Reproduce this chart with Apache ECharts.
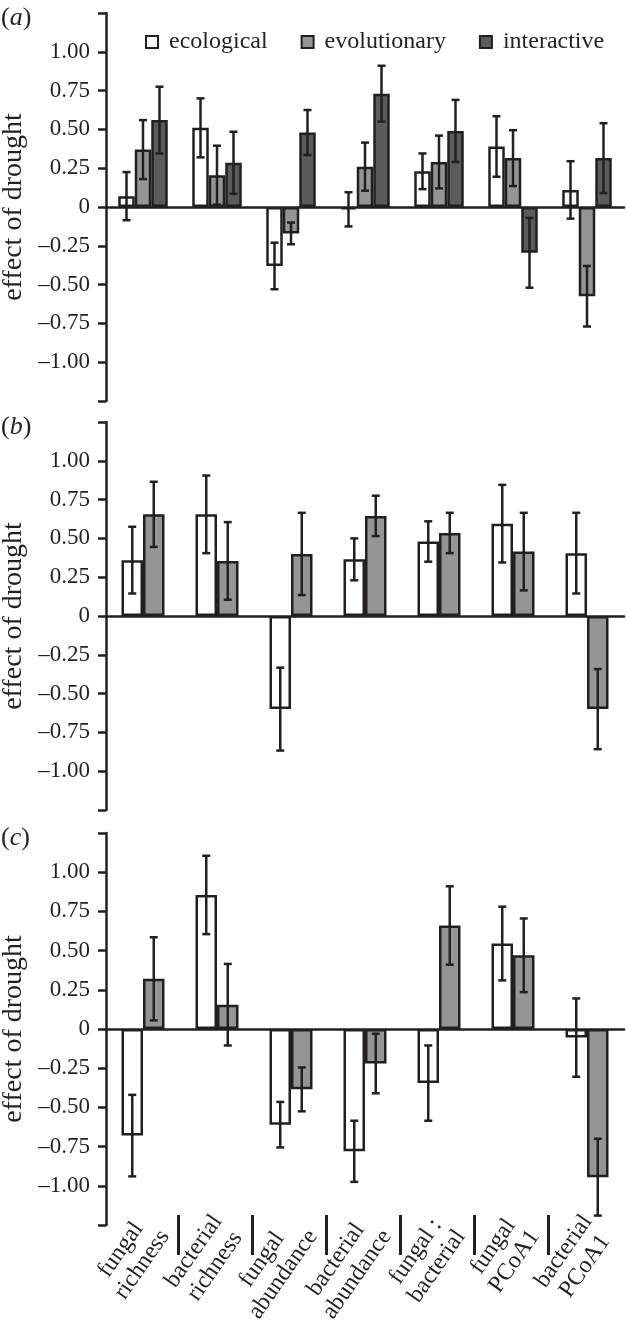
<!DOCTYPE html>
<html>
<head>
<meta charset="utf-8">
<script src="https://cdn.jsdelivr.net/npm/echarts@6/dist/echarts.min.js"></script>
<style>
    html, body { margin: 0; padding: 0; background: #fff; }
    #chart { width: 626px; height: 1323px; }
</style>
</head>
<body>
<div id="chart"></div>
<script>
// categories (x axis)
var categories = ['fungal\nrichness', 'bacterial\nrichness', 'fungal\nabundance', 'bacterial\nabundance',
    'fungal :\nbacterial', 'fungal\nPCoA1', 'bacterial\nPCoA1'];
var seriesNames = ['ecological', 'evolutionary', 'interactive'];

// (a)
var aEco = [0.07, 0.51, -0.38, -0.015, 0.23, 0.39, 0.11];
var aEcoErr = [0.155, 0.19, 0.15, 0.11, 0.115, 0.195, 0.185];
var aEvo = [0.37, 0.205, -0.17, 0.26, 0.29, 0.315, -0.575];
var aEvoErr = [0.19, 0.19, 0.07, 0.155, 0.17, 0.18, 0.195];
var aInt = [0.56, 0.285, 0.48, 0.73, 0.49, -0.295, 0.315];
var aIntErr = [0.215, 0.2, 0.145, 0.18, 0.2, 0.225, 0.225];

// (b)
var bEco = [0.36, 0.655, -0.6, 0.365, 0.48, 0.595, 0.405];
var bEcoErr = [0.215, 0.25, 0.267, 0.135, 0.13, 0.25, 0.26];
var bEvo = [0.655, 0.355, 0.4, 0.645, 0.535, 0.415, -0.6];
var bEvoErr = [0.21, 0.25, 0.265, 0.13, 0.13, 0.25, 0.258];

// (c)
var cEco = [-0.68, 0.855, -0.61, -0.78, -0.345, 0.545, -0.055];
var cEcoErr = [0.26, 0.25, 0.145, 0.195, 0.24, 0.235, 0.25];
var cEvo = [0.32, 0.155, -0.385, -0.22, 0.66, 0.47, -0.945];
var cEvoErr = [0.265, 0.26, 0.14, 0.19, 0.25, 0.235, 0.245];

var FONT = "'Liberation Serif', 'Times New Roman', serif";
var INK = '#231f20';
var fills = ['#ffffff', '#959597', '#5b5b5d'];

var myChart = echarts.init(document.getElementById('chart'));

var panels = [
    {letter: 'a', top: 13, height: 388, barW: 16.5, vals: [aEco, aEvo, aInt], errs: [aEcoErr, aEvoErr, aIntErr]},
    {letter: 'b', top: 422, height: 388, barW: 21.5, vals: [bEco, bEvo], errs: [bEcoErr, bEvoErr]},
    {letter: 'c', top: 833, height: 392, barW: 21.5, vals: [cEco, cEvo], errs: [cEcoErr, cEvoErr]}
];

// error bar drawn at the centre of its bar
function errRender(nBars, idx, barW) {
    return function (params, api) {
        var cat = api.value(0), mean = api.value(1), err = api.value(2);
        var hi = api.coord([cat, mean + err]);
        var lo = api.coord([cat, mean - err]);
        var x = hi[0] + (idx - (nBars - 1) / 2) * barW;
        var st = {stroke: INK, lineWidth: 2.5};
        return {
            type: 'group', children: [
                {type: 'line', shape: {x1: x, y1: hi[1], x2: x, y2: lo[1]}, style: st},
                {type: 'line', shape: {x1: x - 4, y1: hi[1], x2: x + 4, y2: hi[1]}, style: st},
                {type: 'line', shape: {x1: x - 4, y1: lo[1], x2: x + 4, y2: lo[1]}, style: st}
            ]
        };
    };
}

function tickLabel(v) {
    if (Math.abs(v) > 1.2) return '';
    if (v === 0) return '0';
    return (v < 0 ? '\u2013' : '') + Math.abs(v).toFixed(2);
}

var grid = [], xAxis = [], yAxis = [], series = [], graphic = [];

panels.forEach(function (p, gi) {
    grid.push({left: 106, width: 518, top: p.top, height: p.height, outerBoundsMode: 'none'});

    // zero line with ticks below
    xAxis.push({
        gridIndex: gi, type: 'category', data: categories, position: 'bottom',
        axisLine: {onZero: true, lineStyle: {color: INK, width: 2.5}},
        axisTick: {length: 6, lineStyle: {color: INK, width: 2.5}},
        axisLabel: {show: false}, splitLine: {show: false}
    });
    // ticks above the zero line
    xAxis.push({
        gridIndex: gi, type: 'category', data: categories, position: 'top',
        axisLine: {show: false, onZero: true},
        axisTick: {length: 6, lineStyle: {color: INK, width: 2.5}},
        axisLabel: {show: false}, splitLine: {show: false}
    });

    yAxis.push({
        gridIndex: gi, type: 'value', min: -1.25, max: 1.25, interval: 0.25,
        name: 'effect of drought', nameLocation: 'middle', nameGap: 74,
        nameTextStyle: {fontFamily: FONT, fontSize: 28, color: INK},
        axisLine: {show: true, lineStyle: {color: INK, width: 2.5}},
        axisTick: {show: true, length: 8, lineStyle: {color: INK, width: 2.5}},
        axisLabel: {margin: 16, fontFamily: FONT, fontSize: 23, color: INK, formatter: tickLabel},
        splitLine: {show: false}
    });

    var n = p.vals.length;
    p.vals.forEach(function (vals, si) {
        series.push({
            name: seriesNames[si], type: 'bar', xAxisIndex: gi * 2, yAxisIndex: gi,
            barWidth: p.barW, barGap: '0%',
            itemStyle: {color: fills[si], borderColor: INK, borderWidth: 2.5},
            data: vals
        });
    });
    p.errs.forEach(function (errs, si) {
        series.push({
            type: 'custom', xAxisIndex: gi * 2, yAxisIndex: gi, z: 10,
            renderItem: errRender(n, si, p.barW),
            data: errs.map(function (e, i) { return [i, p.vals[si][i], e]; })
        });
    });

    graphic.push({
        type: 'text', left: 1, top: p.top - 8,
        style: {
            text: '({i|' + p.letter + '})', fontFamily: FONT, fontSize: 26, fill: INK,
            rich: {i: {fontFamily: FONT, fontSize: 26, fontStyle: 'italic', fill: INK}}
        }
    });
});

// category labels under panel (c)
grid.push({left: 117, width: 518, top: 1219, height: 1, outerBoundsMode: 'none'});
xAxis.push({
    gridIndex: 3, type: 'category', data: categories, position: 'bottom',
    axisLine: {show: false}, axisTick: {show: false},
    axisLabel: {
        interval: 0, rotate: 55, margin: 5,
        formatter: function (v) {
            return v.split('\n').map(function (s) { return '{t|' + s + '}'; }).join('\n');
        },
        rich: {t: {align: 'center', fontFamily: FONT, fontSize: 24, lineHeight: 26, color: INK}}
    }
});
yAxis.push({gridIndex: 3, type: 'value', show: false});

// separators between the labels
grid.push({left: 178, width: 370, top: 1214, height: 1, outerBoundsMode: 'none'});
xAxis.push({
    gridIndex: 4, type: 'value', min: 1, max: 6, interval: 1,
    axisLine: {show: false},
    axisTick: {show: true, length: 40, lineStyle: {color: INK, width: 3}},
    axisLabel: {show: false}, splitLine: {show: false}
});
yAxis.push({gridIndex: 4, type: 'value', show: false});

option = {
    backgroundColor: '#fff',
    animation: false,
    legend: {
        data: seriesNames, left: 145, top: 30, padding: 0,
        icon: 'rect', itemWidth: 12, itemHeight: 12, itemGap: 33,
        itemStyle: {borderColor: INK, borderWidth: 2},
        textStyle: {fontFamily: FONT, fontSize: 24, color: INK, lineHeight: 24, padding: [0, 0, 0, 6]}
    },
    grid: grid,
    xAxis: xAxis,
    yAxis: yAxis,
    graphic: graphic,
    series: series
};

myChart.setOption(option);
</script>
</body>
</html>
